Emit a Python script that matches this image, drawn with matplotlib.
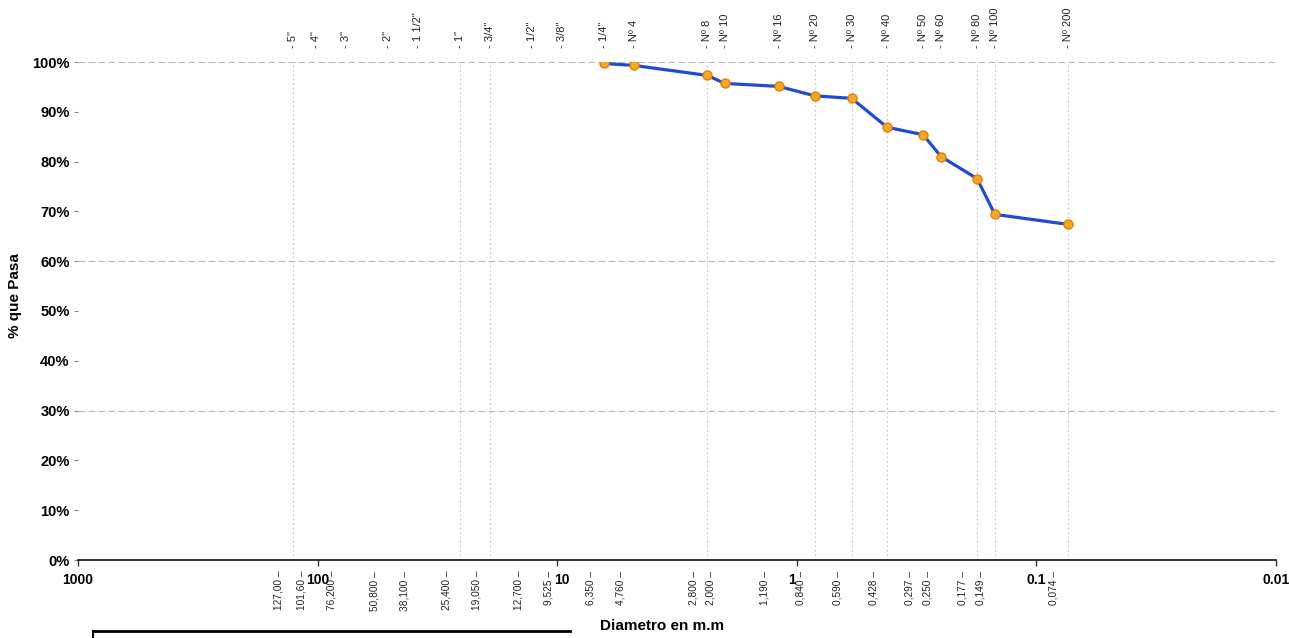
# -*- coding: utf-8 -*-
# Curva granulometrica (% que pasa vs diametro)

import matplotlib
matplotlib.use('Agg')
import matplotlib.pyplot as plt
import matplotlib.transforms as mtransforms
from matplotlib.lines import Line2D
from matplotlib.ticker import FixedLocator, NullLocator, PercentFormatter

plt.rcParams['font.family'] = ['Liberation Sans', 'DejaVu Sans']

# datos del ensayo
diametros = [6.35, 4.76, 2.36, 2.00, 1.19, 0.84, 0.59, 0.42, 0.297, 0.25, 0.177, 0.149, 0.074]
pasa = [0.997, 0.993, 0.973, 0.957, 0.951, 0.932, 0.927, 0.869, 0.854, 0.810, 0.766, 0.694, 0.674]

# tamices: nombre (arriba), abertura mm, texto (abajo)
tamiz_nombres = ['5"', '4"', '3"', '2"', '1 1/2"', '1"', '3/4"', '1/2"', '3/8"', '1/4"',
                 'Nº 4', 'Nº 8', 'Nº 10', 'Nº 16', 'Nº 20', 'Nº 30', 'Nº 40', 'Nº 50',
                 'Nº 60', 'Nº 80', 'Nº 100', 'Nº 200']
tamiz_mm = [127.0, 101.6, 76.2, 50.8, 38.1, 25.4, 19.05, 12.7, 9.525, 6.35,
            4.76, 2.36, 2.0, 1.19, 0.84, 0.59, 0.42, 0.297,
            0.25, 0.177, 0.149, 0.074]
tamiz_textos = ['127,00', '101,60', '76,200', '50,800', '38,100', '25,400', '19,050',
                '12,700', '9,525', '6,350', '4,760', '2,800', '2,000', '1,190', '0,840',
                '0,590', '0,428', '0,297', '0,250', '0,177', '0,149', '0,074']

# lineas verticales de la cuadricula (mm) y horizontales (fraccion)
grid_x = [127.0, 25.4, 19.05, 2.36, 0.84, 0.59, 0.42, 0.177, 0.149, 0.074]
grid_y = [1.0, 0.6, 0.3]

decadas = [1000, 100, 10, 1, 0.1, 0.01]
decadas_txt = ['1000', '100', '10', '1', '0.1', '0.01']
y_ticks = [0.0, 0.1, 0.2, 0.3, 0.4, 0.5, 0.6, 0.7, 0.8, 0.9, 1.0]

W, H = 1289, 638
fig = plt.figure(figsize=(W / 100, H / 100), dpi=100)
# area de trazado en pixeles: x 78..1276, y 62..560
ax = fig.add_axes([78 / W, 1 - 560 / H, (1276 - 78) / W, (560 - 62) / H])

ax.set_xscale('log')
ax.set_xlim(decadas[0], decadas[-1])
ax.set_ylim(0, 1)

for gx in grid_x:
    ax.axvline(gx, color='#c4c4c4', lw=0.8, ls=(0, (1.5, 2.5)), zorder=1)
for gy in grid_y:
    ax.axhline(gy, color='#b8b8b8', lw=0.8, ls=(0, (6, 3)), zorder=1)

ax.plot(diametros, pasa, color='#1d4bd4', lw=2.3, zorder=3,
        marker='o', ms=6.5, mfc='#f9a825', mec='#e67e00', mew=1.0)

# ejes
for s in ['top', 'right', 'left']:
    ax.spines[s].set_visible(False)
ax.spines['bottom'].set_color('#111111')
ax.spines['bottom'].set_linewidth(1.2)

ax.xaxis.set_major_locator(FixedLocator(decadas))
ax.set_xticklabels(decadas_txt, fontsize=10, fontweight='bold')
ax.xaxis.set_minor_locator(NullLocator())
ax.tick_params(axis='x', direction='out', length=4, width=1, pad=5, color='#333333')
# pequenos corrimientos (px) para que "10" y "1" no pisen 9,525 / 0,840
corrimientos = {'10': 5, '1': -5}
for t in ax.get_xticklabels():
    dx = corrimientos.get(t.get_text(), 0)
    if dx:
        t.set_transform(t.get_transform() +
                        mtransforms.ScaledTranslation(dx / 100, 0, fig.dpi_scale_trans))

ax.yaxis.set_major_locator(FixedLocator(y_ticks))
ax.yaxis.set_major_formatter(PercentFormatter(1.0, decimals=0))
for t in ax.get_yticklabels():
    t.set_fontsize(10.5)
    t.set_fontweight('bold')
ax.tick_params(axis='y', direction='out', length=3, width=0.8, pad=3, color='#888888')

ax.set_ylabel('% que Pasa', fontsize=11, fontweight='bold')
ax.yaxis.set_label_coords(-0.047, 0.53)
ax.set_xlabel('Diametro en m.m', fontsize=11, fontweight='bold')
ax.xaxis.set_label_coords(0.4875, -0.118)

# nombres de tamices arriba y aberturas abajo
trans = mtransforms.blended_transform_factory(ax.transData, ax.transAxes)
trans_abajo = mtransforms.offset_copy(trans, fig=fig, x=-14, y=0, units='dots')
for nombre, mm, txt in zip(tamiz_nombres, tamiz_mm, tamiz_textos):
    ax.text(mm, 1.028, '- ' + nombre, transform=trans, rotation=90,
            ha='center', va='bottom', fontsize=8, color='#222222')
    ax.text(mm, -0.022, txt + ' \u2013', transform=trans_abajo, rotation=90,
            ha='center', va='top', fontsize=7.3, color='#222222')

# borde del recuadro inferior (cortado)
fig.add_artist(Line2D([93 / W, 570 / W], [1 - 631 / H, 1 - 631 / H],
                      transform=fig.transFigure, color='black', lw=2))
fig.add_artist(Line2D([93 / W, 93 / W], [1 - 631 / H, 0],
                      transform=fig.transFigure, color='black', lw=1.5))

fig.savefig('out.png', dpi=100, facecolor='white')
